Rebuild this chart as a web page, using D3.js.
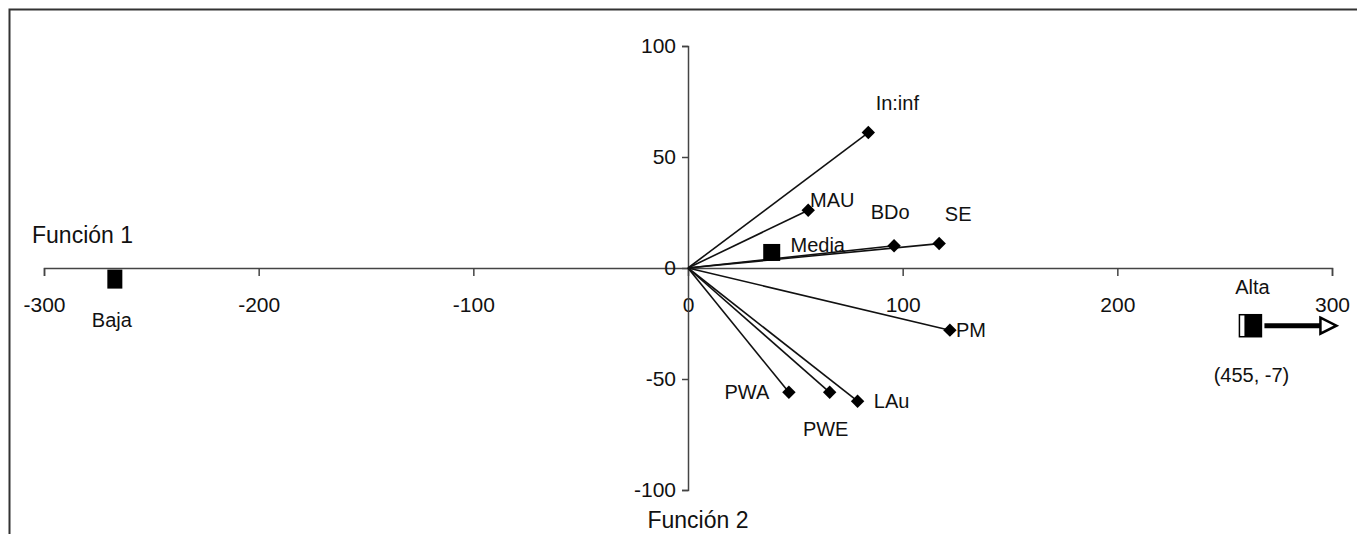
<!DOCTYPE html>
<html>
<head>
<meta charset="utf-8">
<script src="https://cdn.jsdelivr.net/npm/d3@7"></script>
<style>
  body { margin: 0; background: #fff; }
  text { font-family: "Liberation Sans", Arial, sans-serif; fill: #111; }
</style>
</head>
<body>
<div id="chart"></div>
<script>
// discriminant variables (Función 1, Función 2)
const varNames = ["In:inf", "MAU", "BDo", "SE", "PM", "PWA", "PWE", "LAu"];
const varX = [84, 56, 96, 117, 122, 47, 66, 79];
const varY = [61, 26, 10, 11, -28, -56, -56, -60];

// group centroids
const groupNames = ["Media", "Baja", "Alta"];
const groupX = [39, -267, 262];
const groupY = [7, -5, -26];
const altaTrue = "(455, -7)";

const xTicks = [-300, -200, -100, 0, 100, 200, 300];
const yTicks = [-100, -50, 0, 50, 100];

// label offsets in pixels from the marker
const labelOffset = {
  "In:inf": [29, -30], "MAU": [24, -10], "BDo": [-4, -34], "SE": [19, -30],
  "Media": [46, -7], "PM": [21, 0], "PWA": [-42, 0], "PWE": [-4, 37], "LAu": [34, 0],
  "Baja": [-3, 41], "Alta": [2, -39]
};

const width = 1357, height = 534;

const svg = d3.select("#chart")
  .append("svg")
    .attr("width", width)
    .attr("height", height);

// frame (top and left only)
svg.append("path")
  .attr("d", `M9.5,${height} V9.5 H${width}`)
  .attr("fill", "none")
  .attr("stroke", "#333")
  .attr("stroke-width", 2);

const x = d3.scaleLinear().domain([-300, 300]).range([44, 1332]);
const y = d3.scaleLinear().domain([-100, 100]).range([490, 46]);

// x axis through origin, plain hyphen for negatives
const gx = svg.append("g")
  .attr("transform", `translate(0,${y(0)})`)
  .call(d3.axisBottom(x).tickValues(xTicks).tickFormat(d => String(d)).tickSize(8).tickPadding(21));
gx.selectAll("text").style("font-size", "21px");

const gy = svg.append("g")
  .attr("transform", `translate(${x(0)},0)`)
  .call(d3.axisLeft(y).tickValues(yTicks).tickFormat(d => String(d)).tickSize(6).tickPadding(6));
gy.selectAll("text").style("font-size", "21px");

svg.selectAll(".domain, .tick line")
  .attr("stroke", "#444")
  .attr("stroke-width", 1.5);

// axis titles
svg.append("text")
  .attr("x", 32).attr("y", 235).attr("dy", "0.35em")
  .style("font-size", "23px")
  .text("Función 1");

svg.append("text")
  .attr("x", 698).attr("y", 520).attr("dy", "0.35em")
  .attr("text-anchor", "middle")
  .style("font-size", "23px")
  .text("Función 2");

// vectors
const vars = varNames.map((n, i) => ({ name: n, x: varX[i], y: varY[i] }));

svg.selectAll(".vec")
  .data(vars)
  .join("line")
    .attr("class", "vec")
    .attr("x1", x(0)).attr("y1", y(0))
    .attr("x2", d => x(d.x)).attr("y2", d => y(d.y))
    .attr("stroke", "#111")
    .attr("stroke-width", 1.6);

svg.selectAll(".dia")
  .data(vars)
  .join("path")
    .attr("class", "dia")
    .attr("d", d3.symbol(d3.symbolSquare, 90))
    .attr("transform", d => `translate(${x(d.x)},${y(d.y)}) rotate(45)`)
    .attr("fill", "#000");

svg.selectAll(".vlab")
  .data(vars)
  .join("text")
    .attr("class", "vlab")
    .attr("x", d => x(d.x) + labelOffset[d.name][0])
    .attr("y", d => y(d.y) + labelOffset[d.name][1])
    .attr("dy", "0.35em")
    .attr("text-anchor", "middle")
    .style("font-size", "20px")
    .text(d => d.name);

// centroids
const groups = groupNames.map((n, i) => ({ name: n, x: groupX[i], y: groupY[i] }));
const sizes = { "Media": [17, 17], "Baja": [15, 19], "Alta": [22, 22] };

const media = groups[0], baja = groups[1], alta = groups[2];

[media, baja].forEach(d => {
  const [w, h] = sizes[d.name];
  svg.append("rect")
    .attr("x", x(d.x) - w / 2).attr("y", y(d.y) - h / 2)
    .attr("width", w).attr("height", h)
    .attr("fill", "#000");
});

// Alta: shaded square + arrow pointing off the scale
const ax = x(alta.x), ay = y(alta.y);
svg.append("rect")
  .attr("x", ax - 11).attr("y", ay - 11)
  .attr("width", 22).attr("height", 22)
  .attr("fill", "#fff").attr("stroke", "#000").attr("stroke-width", 1.5);
svg.append("rect")
  .attr("x", ax - 6).attr("y", ay - 11)
  .attr("width", 17).attr("height", 22)
  .attr("fill", "#000");

svg.append("line")
  .attr("x1", ax + 14).attr("y1", ay)
  .attr("x2", ax + 72).attr("y2", ay)
  .attr("stroke", "#000").attr("stroke-width", 5);
svg.append("path")
  .attr("d", `M${ax + 70},${ay - 8} L${ax + 86},${ay} L${ax + 70},${ay + 8} Z`)
  .attr("fill", "#fff")
  .attr("stroke", "#000")
  .attr("stroke-width", 2.5);

svg.selectAll(".glab")
  .data([media, baja, alta])
  .join("text")
    .attr("class", "glab")
    .attr("x", d => x(d.x) + labelOffset[d.name][0])
    .attr("y", d => y(d.y) + labelOffset[d.name][1])
    .attr("dy", "0.35em")
    .attr("text-anchor", "middle")
    .style("font-size", "20px")
    .text(d => d.name);

svg.append("text")
  .attr("x", ax + 1).attr("y", ay + 49).attr("dy", "0.35em")
  .attr("text-anchor", "middle")
  .style("font-size", "20px")
  .text(altaTrue);
</script>
</body>
</html>
